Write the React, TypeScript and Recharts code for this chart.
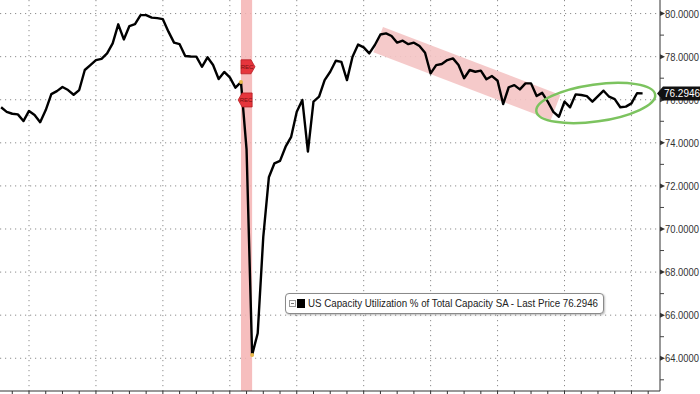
import {
  LineChart, Line, XAxis, YAxis, CartesianGrid, ReferenceArea, ReferenceLine, ReferenceDot,
} from "recharts";

// monthly readings, first one is Jul 2016 (month index -5, index 0 = Dec 2016)
const START_MONTH = -5;
const utilization = [
  75.65, 75.44, 75.35, 75.32, 75.01, 75.48, 75.29, 74.96, 75.52, 76.26,
  76.40, 76.59, 76.45, 76.23, 76.45, 77.38, 77.61, 77.84, 77.90, 78.15,
  78.62, 79.50, 78.80, 79.42, 79.51, 79.93, 79.93, 79.81, 79.79, 79.74,
  79.16, 78.65, 78.58, 78.03, 78.01, 78.00, 77.53, 77.97, 77.61, 76.96,
  77.29, 77.04, 76.56, 76.82, 73.70, 64.15, 65.16, 69.64, 72.40, 73.05,
  73.16, 73.82, 74.28, 75.44, 75.99, 73.59, 75.91, 76.14, 76.91, 77.30,
  77.81, 77.76, 76.91, 78.00, 78.56, 78.43, 78.15, 78.54, 79.03, 79.08,
  78.96, 78.65, 78.74, 78.58, 78.65, 78.49, 78.18, 77.22, 77.61, 77.66,
  77.84, 77.92, 77.61, 77.00, 77.38, 77.30, 77.35, 76.95, 77.10, 76.88,
  75.80, 76.58, 76.68, 76.48, 76.76, 76.76, 76.17, 76.32, 75.91, 75.44,
  75.21, 75.91, 75.65, 76.25, 76.22, 76.17, 75.91, 76.17, 76.42, 76.14,
  76.03, 75.65, 75.68, 75.83, 76.30, 76.2946,
];
const LAST_PRICE = 76.2946;
const LEGEND_TEXT = "US Capacity Utilization % of Total Capacity SA - Last Price 76.2946";

const yearStarts = [0, 12, 24, 36, 48, 60, 72, 84, 96, 108];
const quarterTicks = [-3, 0, 3, 6, 9, 12, 15, 18, 21, 24, 27, 30, 33, 36, 39, 42, 45, 48, 51, 54, 57, 60, 63, 66, 69, 72, 75, 78, 81, 84, 87, 90, 93, 96, 99, 102, 105, 108, 111];
const gridValues = [64, 66, 68, 70, 72, 74, 76, 78, 80];
const axisValues = [63, 64, 65, 66, 67, 68, 69, 70, 71, 72, 73, 74, 75, 76, 77, 78, 79, 80, LAST_PRICE];

// recession (Feb-Apr 2020) and annotation anchors, in month index / value
const recession = [38, 40];
const trendBand = [{ x: 62.6, y: 78.79 }, { x: 94.4, y: 75.64 }];
const ellipseCenter = { x: 101.6, y: 75.85 };

const data = utilization.map((v, i) => ({ m: i + START_MONTH, v }));

const FONT = "'Liberation Sans', Arial, sans-serif";

function RightTick({ x, y, payload }: any) {
  const v = payload.value;
  if (v === LAST_PRICE) {
    return (
      <g>
        <path d={`M${x - 3},${y}L${x + 3},${y - 7}L${x + 42},${y - 7}L${x + 42},${y + 7}L${x + 3},${y + 7}Z`} fill="#111" />
        <text x={x + 4} y={y} dy="0.36em" fontSize={11} fill="#fff" fontFamily={FONT}
          textLength={36} lengthAdjust="spacingAndGlyphs">{v.toFixed(4)}</text>
      </g>
    );
  }
  if (v % 2 !== 0) return <line x1={x} y1={y} x2={x + 4} y2={y} stroke="#444" />;
  return (
    <g>
      <path d={`M${x},${y - 2.5}L${x + 5},${y}L${x},${y + 2.5}Z`} fill="#333" />
      <text x={x + 5} y={y} dy="0.36em" fontSize={11} fill="#333" fontFamily={FONT}
        textLength={34} lengthAdjust="spacingAndGlyphs">{v.toFixed(4)}</text>
    </g>
  );
}

function RecFlag({ cx, cy, dir }: any) {
  const d = dir > 0
    ? `M${cx},${cy - 7}L${cx + 10},${cy - 7}L${cx + 14},${cy}L${cx + 10},${cy + 7}L${cx},${cy + 7}Z`
    : `M${cx},${cy - 7}L${cx - 10},${cy - 7}L${cx - 14},${cy}L${cx - 10},${cy + 7}L${cx},${cy + 7}Z`;
  const tx = dir > 0 ? cx + 6 : cx - 6;
  return (
    <g>
      <path d={d} fill="#e6353c" stroke="#b51e25" strokeWidth={0.8} />
      <text x={tx} y={cy} dy="0.35em" textAnchor="middle" fontSize={6} fill="#7a1010" fontFamily={FONT}>REC</text>
    </g>
  );
}

function LegendBox() {
  return (
    <div style={{
      position: "absolute", left: 285, top: 293, width: 319, height: 21,
      border: "1px solid #8a8a8a", borderRadius: 4, background: "#fff",
      boxShadow: "1px 1px 2px rgba(0,0,0,0.25)", boxSizing: "border-box",
    }}>
      <svg width={317} height={19} style={{ display: "block" }}>
        <rect x={3.5} y={6.5} width={6} height={6} fill="#fff" stroke="#999" />
        <line x1={5} y1={9.5} x2={8} y2={9.5} stroke="#777" />
        <rect x={11} y={5} width={8} height={9} fill="#000" />
        <text x={22} y={9.5} dy="0.36em" fontSize={11} fill="#222" fontFamily={FONT}
          textLength={290} lengthAdjust="spacingAndGlyphs">{LEGEND_TEXT}</text>
      </svg>
    </div>
  );
}

export default function App() {
  return (
    <div style={{ position: "absolute", left: 0, top: 0, width: 700, height: 394, background: "#fff", overflow: "hidden" }}>
      <LineChart width={700} height={394} data={data} margin={{ top: 0, right: 0, bottom: 0, left: 0 }}>
        <CartesianGrid
          stroke="#8c8c8c"
          strokeDasharray="1.2 3.8"
          horizontalValues={gridValues}
          verticalValues={yearStarts}
        />
        <ReferenceArea x1={recession[0]} x2={recession[1]} fill="#f5b3b3" fillOpacity={0.85} stroke="none" ifOverflow="visible" />
        <ReferenceLine segment={trendBand} stroke="#f4c4c4" strokeWidth={27} strokeOpacity={0.9} ifOverflow="visible" />
        <XAxis
          type="number"
          dataKey="m"
          domain={[-5.2, 113.12]}
          ticks={quarterTicks}
          interval={0}
          tickFormatter={() => ""}
          tickSize={4}
          height={3}
          axisLine={{ stroke: "#333" }}
          tickLine={{ stroke: "#333" }}
          allowDataOverflow
        />
        <YAxis
          orientation="right"
          type="number"
          domain={[62.48, 80.63]}
          ticks={axisValues}
          interval={0}
          width={40}
          tickSize={0}
          tickMargin={0}
          tickLine={false}
          axisLine={{ stroke: "#333" }}
          tick={<RightTick />}
          allowDataOverflow
        />
        <Line
          type="linear"
          dataKey="v"
          stroke="#000"
          strokeWidth={2.4}
          dot={false}
          activeDot={false}
          isAnimationActive={false}
          strokeLinejoin="round"
        />
        <ReferenceDot x={38} y={76.82} r={2} fill="#e8b84a" stroke="none" />
        <ReferenceDot x={40} y={64.15} r={2} fill="#e8b84a" stroke="none" />
        <ReferenceDot x={38} y={77.53} shape={(p: any) => <RecFlag {...p} dir={1} />} ifOverflow="visible" />
        <ReferenceDot x={40} y={75.99} shape={(p: any) => <RecFlag {...p} dir={-1} />} ifOverflow="visible" />
        <ReferenceDot
          x={ellipseCenter.x}
          y={ellipseCenter.y}
          ifOverflow="visible"
          shape={({ cx, cy }: any) => (
            <ellipse cx={cx} cy={cy} rx={60} ry={18.5} fill="none" stroke="#7cc35f" strokeWidth={2.5}
              transform={`rotate(-8 ${cx} ${cy})`} />
          )}
        />
      </LineChart>
      <LegendBox />
    </div>
  );
}
